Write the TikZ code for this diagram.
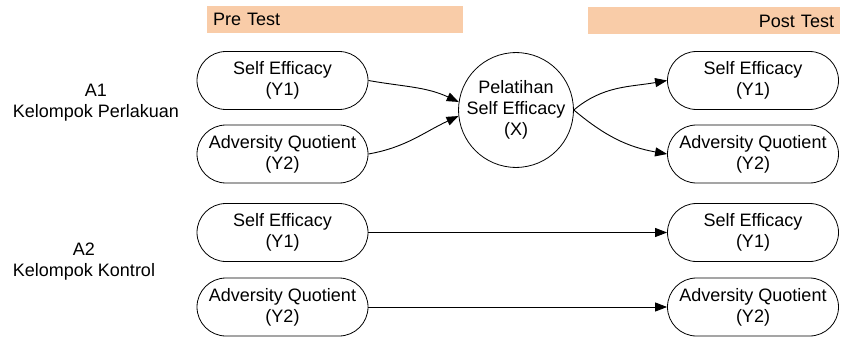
\documentclass[tikz,border=0pt]{standalone}
\usepackage{fontspec}
\setmainfont{Liberation Sans}
\usetikzlibrary{arrows.meta}
\definecolor{barpeach}{HTML}{F9CCA8}
\tikzset{
  pill/.style={
    draw,
    line width=0.8pt,
    rounded corners=29pt,
    minimum width=171pt,
    minimum height=58pt,
    align=center,
    inner sep=0pt,
  },
  treat/.style={
    draw,
    circle,
    line width=0.8pt,
    minimum size=106pt,
    align=center,
    inner sep=0pt,
  },
  bar/.style={
    fill=barpeach,
    minimum height=27pt,
    inner sep=6pt,
  },
  arr/.style={
    -{Triangle[length=12pt, width=9pt]},
    line width=0.9pt,
  }
}

\begin{document}
\begin{tikzpicture}[x=1pt, y=-1pt, font=\fontsize{18}{21}\selectfont]
    \useasboundingbox (0, 0) rectangle (841, 337);

    % Header bars
    \node[bar, minimum width=256pt, text width=244pt, align=left] (preBar) at (335, 19.5) {Pre Test};
    \node[bar, minimum width=252pt, text width=240pt, align=right] (postBar) at (714, 21) {Post Test};

    % Group labels
    \node[align=center] (grpA) at (96, 103) {A1\\Kelompok Perlakuan};
    \node[align=center] (grpB) at (84, 262) {A2\\Kelompok Kontrol};

    % Pre test
    \node[pill] (pre1) at (282.5, 80.5) {Self Efficacy\\(Y1)};
    \node[pill] (pre2) at (282.5, 154) {Adversity Quotient\\(Y2)};
    \node[pill] (pre3) at (282.5, 232.5) {Self Efficacy\\(Y1)};
    \node[pill] (pre4) at (282.5, 307) {Adversity Quotient\\(Y2)};

    % Treatment
    \node[treat] (latihan) at (516, 110) {Pelatihan\\Self Efficacy\\(X)};

    % Post test
    \node[pill] (post1) at (753, 80.5) {Self Efficacy\\(Y1)};
    \node[pill] (post2) at (753, 154) {Adversity Quotient\\(Y2)};
    \node[pill] (post3) at (753, 232.5) {Self Efficacy\\(Y1)};
    \node[pill] (post4) at (753, 307) {Adversity Quotient\\(Y2)};

    \draw[arr] (pre1.east) to[out=-10, in=155] (latihan.172);
    \draw[arr] (pre2.east) to[out=10, in=205] (latihan.186);
    \draw[arr] (latihan.east) to[out=40, in=190] (post1.west);
    \draw[arr] (latihan.east) to[out=-40, in=170] (post2.west);
    \draw[arr] (pre3.east) -- (post3.west);
    \draw[arr] (pre4.east) -- (post4.west);

\end{tikzpicture}
\end{document}
